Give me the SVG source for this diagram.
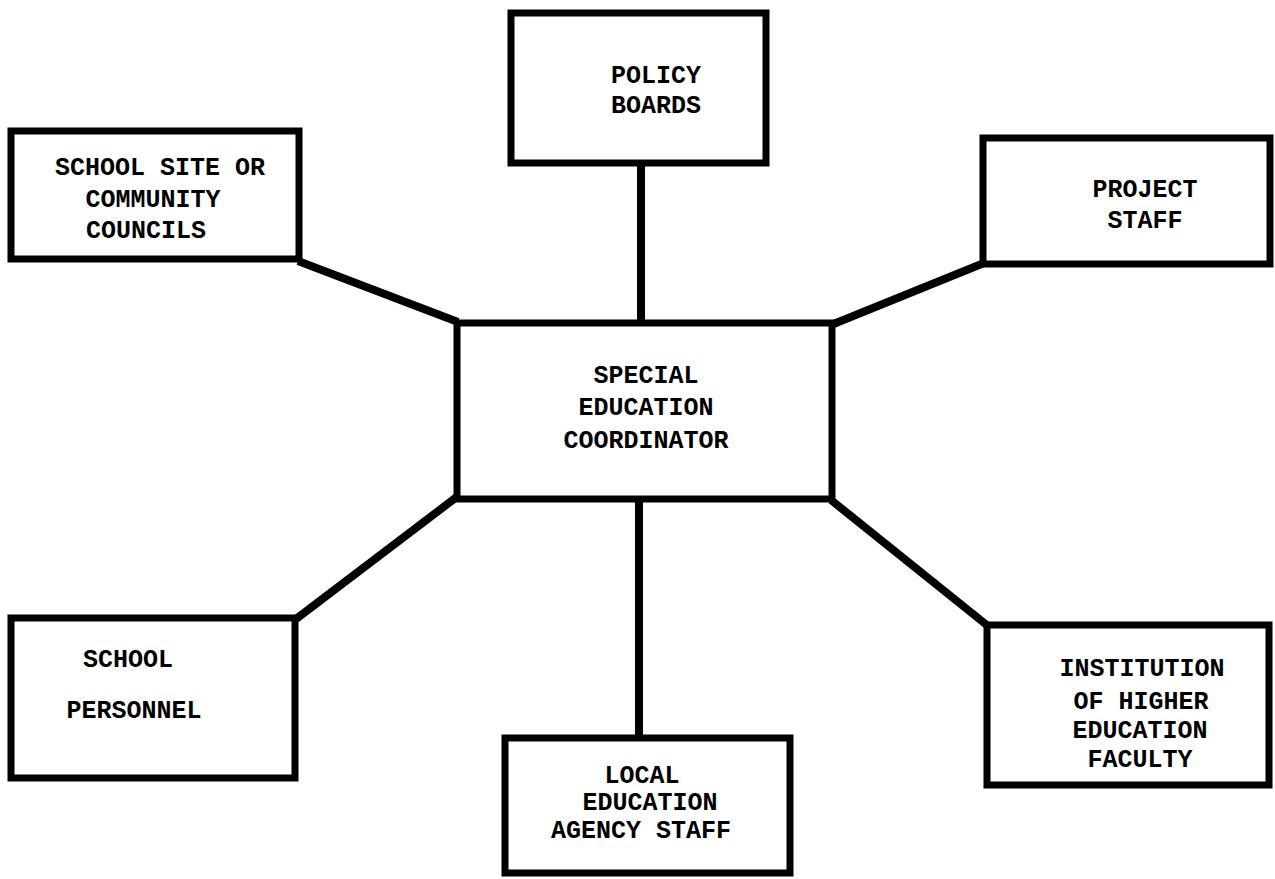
<svg xmlns="http://www.w3.org/2000/svg" width="1275" height="879" viewBox="0 0 1275 879">
<style>
.box{fill:#fff;stroke:#000;stroke-width:7;stroke-linejoin:miter}
.conn{stroke:#000;stroke-width:8;fill:none;stroke-linecap:butt}
.t{font-family:"Liberation Mono","DejaVu Sans Mono",monospace;font-weight:bold;font-size:25px;fill:#000;text-anchor:middle}
</style>
<rect width="1275" height="879" fill="#fff"/>
<g id="connectors">
<line class="conn" x1="641" y1="163" x2="641" y2="323"/>
<line class="conn" x1="639" y1="499" x2="639" y2="738"/>
<line class="conn" x1="298" y1="261" x2="458" y2="322"/>
<line class="conn" x1="984" y1="263" x2="831" y2="325"/>
<line class="conn" x1="296" y1="619" x2="458" y2="496"/>
<line class="conn" x1="831" y1="500" x2="988" y2="626"/>
</g>
<g id="policy-boards">
<rect class="box" x="511" y="13" width="255" height="150"/>
<text class="t" x="656" y="83">POLICY</text>
<text class="t" x="656" y="113">BOARDS</text>
</g>
<g id="school-site">
<rect class="box" x="11" y="131" width="288" height="128"/>
<text class="t" x="160" y="175">SCHOOL SITE OR</text>
<text class="t" x="153" y="207">COMMUNITY</text>
<text class="t" x="146" y="238">COUNCILS</text>
</g>
<g id="project-staff">
<rect class="box" x="983" y="138" width="287" height="126"/>
<text class="t" x="1145" y="197">PROJECT</text>
<text class="t" x="1145" y="228">STAFF</text>
</g>
<g id="coordinator">
<rect class="box" x="457" y="323" width="375" height="176"/>
<text class="t" x="646" y="383">SPECIAL</text>
<text class="t" x="646" y="415">EDUCATION</text>
<text class="t" x="646" y="448">COORDINATOR</text>
</g>
<g id="school-personnel">
<rect class="box" x="11" y="618" width="284" height="160"/>
<text class="t" x="128" y="667">SCHOOL</text>
<text class="t" x="134" y="718">PERSONNEL</text>
</g>
<g id="institution">
<rect class="box" x="987" y="625" width="282" height="160"/>
<text class="t" x="1142" y="676">INSTITUTION</text>
<text class="t" x="1141" y="709">OF HIGHER</text>
<text class="t" x="1140" y="738">EDUCATION</text>
<text class="t" x="1140" y="767">FACULTY</text>
</g>
<g id="local-education">
<rect class="box" x="505" y="738" width="285" height="135"/>
<text class="t" x="642" y="783">LOCAL</text>
<text class="t" x="650" y="810">EDUCATION</text>
<text class="t" x="641" y="838">AGENCY STAFF</text>
</g>
</svg>
